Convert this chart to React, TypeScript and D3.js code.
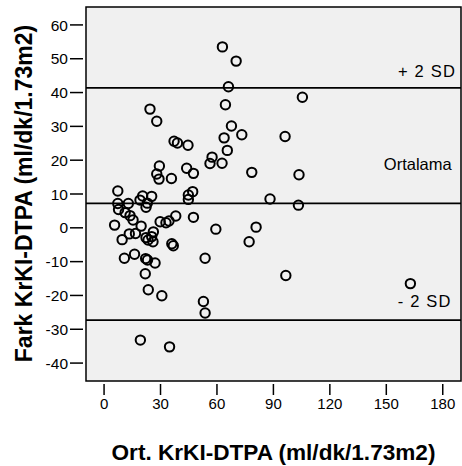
import React from "react";
import * as d3 from "d3";

const W = 462;
const H = 466;

// Mean of two methods (x) and difference (y)
const meanValues = [
  62.9, 70.2, 66.1, 64.5, 24.4, 28.0, 67.7, 73.2, 63.8, 37.2,
  39.0, 44.6, 65.5, 57.4, 56.3, 62.7, 29.4, 43.9, 47.5, 78.5,
  28.0, 29.2, 35.8, 7.3, 47.1, 44.8, 44.8, 20.5, 25.3, 88.2,
  105.4, 96.2, 103.6, 103.3, 96.6, 162.8, 19.1, 23.0, 22.3, 12.9,
  7.3, 7.7, 11.2, 13.8, 15.4, 5.6, 19.7, 29.8, 32.9, 34.5,
  38.1, 47.5, 59.4, 80.8, 77.1, 26.2, 13.4, 16.7, 22.3, 25.3,
  26.0, 9.6, 36.0, 36.8, 16.2, 10.8, 22.1, 23.1, 27.1, 53.7,
  21.9, 23.5, 30.7, 52.8, 53.7, 19.3, 34.8, 23.4,
];
const diffValues = [
  53.5, 49.3, 41.7, 36.4, 35.1, 31.5, 30.1, 27.5, 26.6, 25.6,
  25.1, 24.4, 22.9, 20.9, 19.0, 19.1, 18.3, 17.6, 16.1, 16.4,
  15.9, 14.4, 14.6, 10.9, 10.7, 9.7, 8.4, 9.4, 9.3, 8.5,
  38.6, 27.0, 15.7, 6.7, -14.1, -16.5, 8.2, 7.3, 6.1, 7.2,
  7.2, 5.4, 4.5, 3.6, 2.3, 0.8, 0.5, 1.8, 1.5, 2.0,
  3.5, 3.1, -0.4, 0.2, -4.1, -1.2, -1.8, -1.7, -2.9, -2.6,
  -4.1, -3.5, -4.7, -5.3, -7.8, -9.0, -9.1, -9.5, -10.4, -9.0,
  -13.6, -18.3, -20.1, -21.8, -25.2, -33.2, -35.2, -3.6,
];

const xTicks = [0, 30, 60, 90, 120, 150, 180];
const yTicks = [60, 50, 40, 30, 20, 10, 0, -10, -20, -30, -40];

const refValues = [41.4, 7.2, -27.3];
const refLabels = ["+ 2 SD", "Ortalama", "- 2 SD"];

const xDomain = [-9.6, 189.7];
const yDomain = [-45.3, 65.3];

export default function App() {
  const left = 86, right = 461, top = 7, bottom = 381;
  const x = d3.scaleLinear().domain(xDomain).range([left, right]);
  const y = d3.scaleLinear().domain(yDomain).range([bottom, top]);
  const font = "'Liberation Sans', Arial, sans-serif";

  const labelPos = [
    { dx: 456, dy: 76.7, ls: 1.2 },
    { dx: 451.7, dy: 170, ls: 0 },
    { dx: 451.7, dy: 307.3, ls: 1.2 },
  ];

  return (
    <svg
      width={W}
      height={H}
      style={{ position: "absolute", left: 0, top: 0, display: "block", background: "#fff" }}
      fontFamily={font}
    >
      <rect x={left} y={top} width={right - left} height={bottom - top} fill="#f0f0f0" />
      {refValues.map((v, i) => (
        <line key={"r" + i} x1={left} x2={right} y1={y(v)} y2={y(v)} stroke="#000" strokeWidth={1.8} />
      ))}
      {refLabels.map((t, i) => (
        <text
          key={"l" + i}
          x={labelPos[i].dx}
          y={labelPos[i].dy}
          textAnchor="end"
          fontSize={16.5}
          letterSpacing={labelPos[i].ls}
          fill="#000"
        >
          {t}
        </text>
      ))}
      {meanValues.map((m, i) => (
        <circle key={"p" + i} cx={x(m)} cy={y(diffValues[i])} r={4.7} fill="none" stroke="#000" strokeWidth={2} />
      ))}
      <rect x={left} y={top} width={right - left} height={bottom - top} fill="none" stroke="#000" strokeWidth={1.5} />
      {xTicks.map((t) => (
        <g key={"x" + t}>
          <line x1={x(t)} x2={x(t)} y1={384} y2={395} stroke="#000" strokeWidth={1.5} />
          <text x={x(t)} y={409} textAnchor="middle" fontSize={15} fill="#000">{t}</text>
        </g>
      ))}
      {yTicks.map((t) => (
        <g key={"y" + t}>
          <line x1={70} x2={83} y1={y(t)} y2={y(t)} stroke="#000" strokeWidth={1.5} />
          <text x={68} y={y(t)} dy="0.36em" textAnchor="end" fontSize={15.5} fill="#000">{t}</text>
        </g>
      ))}
      <text x={273.5} y={460} textAnchor="middle" fontSize={22.6} fontWeight="bold" fill="#000">
        Ort. KrKI-DTPA (ml/dk/1.73m2)
      </text>
      <text
        transform={`translate(32,193.5) rotate(-90)`}
        textAnchor="middle"
        fontSize={23}
        fontWeight="bold"
        fill="#000"
      >
        Fark KrKI-DTPA (ml/dk/1.73m2)
      </text>
    </svg>
  );
}
